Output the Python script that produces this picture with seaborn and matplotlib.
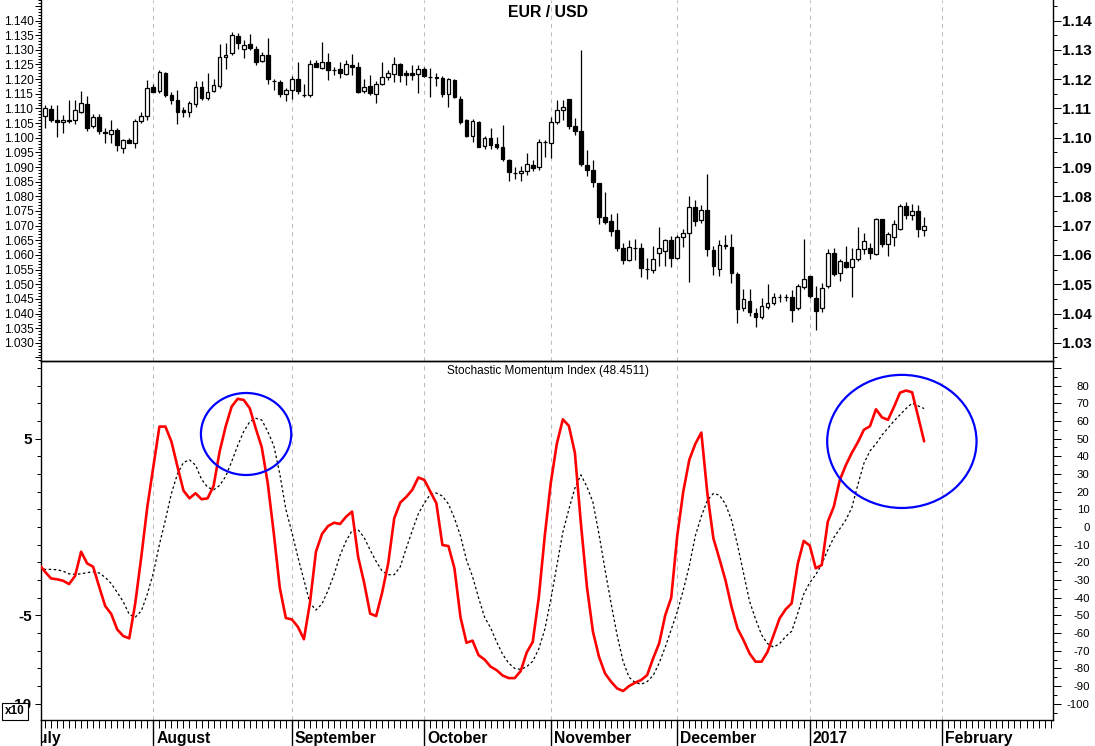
import numpy as np
import pandas as pd
import seaborn as sns
import matplotlib.pyplot as plt
from matplotlib.patches import Ellipse
from matplotlib.ticker import MultipleLocator, FixedLocator, FuncFormatter

# forex trading days (the feed has no bar for Thanksgiving)
calendar = pd.bdate_range("2016-07-01", "2017-02-28")
calendar = calendar[calendar != pd.Timestamp("2016-11-24")]
first_candle = pd.Timestamp("2016-07-06")
last_candle = pd.Timestamp("2017-01-27")
smi_start = pd.Timestamp("2016-07-05")

month_labels = ["July", "August", "September", "October", "November",
                "December", "2017", "February"]

opens = [1.1074, 1.1099, 1.1062, 1.1052, 1.1058, 1.1059, 1.1088, 1.1115, 1.1040, 1.1070,
         1.1019, 1.1011, 1.1028, 1.0966, 1.0992, 1.0981, 1.1056, 1.1073, 1.1174, 1.1158,
         1.1222, 1.1146, 1.1130, 1.1093, 1.1087, 1.1115, 1.1174, 1.1136, 1.1160, 1.1176,
         1.1276, 1.1288, 1.1348, 1.1303, 1.1320, 1.1303, 1.1263, 1.1281, 1.1194, 1.1190,
         1.1148, 1.1162, 1.1200, 1.1147, 1.1146, 1.1255, 1.1238, 1.1260, 1.1232, 1.1233,
         1.1219, 1.1247, 1.1243, 1.1158, 1.1178, 1.1149, 1.1185, 1.1206, 1.1219, 1.1251,
         1.1221, 1.1220, 1.1219, 1.1233, 1.1208, 1.1205, 1.1205, 1.1148, 1.1196, 1.1133,
         1.1059, 1.1005, 1.1055, 1.0972, 1.0998, 1.0980, 1.0969, 1.0925, 1.0879, 1.0879,
         1.0887, 1.0907, 1.0899, 1.0987, 1.0981, 1.1054, 1.1096, 1.1133, 1.1039, 1.1022,
         1.0907, 1.0891, 1.0845, 1.0730, 1.0716, 1.0685, 1.0622, 1.0581, 1.0624, 1.0624,
         1.0553, 1.0550, 1.0605, 1.0612, 1.0650, 1.0588, 1.0662, 1.0675, 1.0763, 1.0718,
         1.0754, 1.0618, 1.0552, 1.0634, 1.0628, 1.0536, 1.0419, 1.0444, 1.0402, 1.0389,
         1.0423, 1.0437, 1.0456, 1.0456, 1.0457, 1.0419, 1.0491, 1.0529, 1.0453, 1.0419,
         1.0494, 1.0606, 1.0540, 1.0575, 1.0558, 1.0586, 1.0619, 1.0622, 1.0602, 1.0722,
         1.0636, 1.0660, 1.0690, 1.0767, 1.0735, 1.0751, 1.0684]
highs = [1.1113, 1.1110, 1.1111, 1.1077, 1.1128, 1.1128, 1.1159, 1.1142, 1.1082, 1.1081,
         1.1032, 1.1061, 1.1033, 1.0996, 1.1000, 1.1064, 1.1087, 1.1198, 1.1183, 1.1231,
         1.1225, 1.1155, 1.1164, 1.1104, 1.1124, 1.1195, 1.1195, 1.1222, 1.1200, 1.1319,
         1.1322, 1.1362, 1.1359, 1.1332, 1.1354, 1.1314, 1.1292, 1.1341, 1.1199, 1.1197,
         1.1171, 1.1211, 1.1259, 1.1183, 1.1264, 1.1264, 1.1325, 1.1288, 1.1243, 1.1258,
         1.1264, 1.1285, 1.1257, 1.1200, 1.1215, 1.1194, 1.1258, 1.1232, 1.1276, 1.1254,
         1.1232, 1.1249, 1.1249, 1.1241, 1.1239, 1.1221, 1.1209, 1.1204, 1.1202, 1.1141,
         1.1065, 1.1065, 1.1058, 1.1006, 1.1033, 1.1003, 1.1042, 1.0927, 1.0901, 1.0904,
         1.0947, 1.0924, 1.0994, 1.0992, 1.1071, 1.1128, 1.1130, 1.1133, 1.1069, 1.1300,
         1.0958, 1.0924, 1.0846, 1.0815, 1.0741, 1.0742, 1.0640, 1.0651, 1.0654, 1.0640,
         1.0591, 1.0629, 1.0695, 1.0654, 1.0666, 1.0669, 1.0688, 1.0802, 1.0788, 1.0771,
         1.0876, 1.0629, 1.0652, 1.0669, 1.0672, 1.0541, 1.0484, 1.0484, 1.0419, 1.0453,
         1.0502, 1.0471, 1.0467, 1.0465, 1.0481, 1.0501, 1.0654, 1.0529, 1.0493, 1.0504,
         1.0619, 1.0625, 1.0585, 1.0629, 1.0625, 1.0694, 1.0675, 1.0639, 1.0726, 1.0722,
         1.0679, 1.0718, 1.0775, 1.0781, 1.0775, 1.0769, 1.0728]
lows = [1.1033, 1.1053, 1.1003, 1.1017, 1.1050, 1.1046, 1.1085, 1.1023, 1.1033, 1.1013,
        1.0981, 1.0981, 1.0955, 1.0949, 1.0981, 1.0964, 1.1050, 1.1059, 1.1155, 1.1153,
        1.1138, 1.1116, 1.1046, 1.1070, 1.1070, 1.1104, 1.1129, 1.1128, 1.1156, 1.1168,
        1.1235, 1.1283, 1.1304, 1.1273, 1.1299, 1.1249, 1.1257, 1.1182, 1.1163, 1.1138,
        1.1126, 1.1133, 1.1149, 1.1138, 1.1138, 1.1241, 1.1236, 1.1198, 1.1215, 1.1205,
        1.1213, 1.1213, 1.1151, 1.1151, 1.1146, 1.1120, 1.1180, 1.1198, 1.1190, 1.1190,
        1.1181, 1.1198, 1.1151, 1.1207, 1.1139, 1.1178, 1.1139, 1.1105, 1.1137, 1.1048,
        1.1003, 1.0987, 1.0968, 1.0962, 1.0962, 1.0962, 1.0921, 1.0854, 1.0859, 1.0854,
        1.0873, 1.0885, 1.0890, 1.0935, 1.0930, 1.1048, 1.1059, 1.1031, 1.1008, 1.0904,
        1.0868, 1.0831, 1.0705, 1.0705, 1.0663, 1.0615, 1.0568, 1.0579, 1.0581, 1.0525,
        1.0517, 1.0539, 1.0563, 1.0563, 1.0558, 1.0585, 1.0627, 1.0507, 1.0699, 1.0709,
        1.0597, 1.0532, 1.0527, 1.0620, 1.0503, 1.0368, 1.0408, 1.0393, 1.0354, 1.0382,
        1.0415, 1.0428, 1.0438, 1.0443, 1.0372, 1.0411, 1.0484, 1.0453, 1.0343, 1.0406,
        1.0487, 1.0527, 1.0512, 1.0555, 1.0456, 1.0580, 1.0602, 1.0586, 1.0600, 1.0628,
        1.0597, 1.0630, 1.0685, 1.0724, 1.0718, 1.0660, 1.0663]
closes = [1.1102, 1.1059, 1.1053, 1.1060, 1.1060, 1.1093, 1.1118, 1.1034, 1.1071, 1.1022,
          1.1017, 1.1025, 1.0976, 1.0992, 1.0983, 1.1056, 1.1075, 1.1170, 1.1157, 1.1225,
          1.1147, 1.1129, 1.1087, 1.1087, 1.1119, 1.1172, 1.1134, 1.1156, 1.1180, 1.1274,
          1.1282, 1.1351, 1.1323, 1.1317, 1.1305, 1.1260, 1.1283, 1.1199, 1.1193, 1.1149,
          1.1162, 1.1202, 1.1160, 1.1146, 1.1252, 1.1241, 1.1260, 1.1232, 1.1231, 1.1222,
          1.1253, 1.1241, 1.1156, 1.1174, 1.1151, 1.1185, 1.1208, 1.1221, 1.1251, 1.1213,
          1.1213, 1.1215, 1.1235, 1.1210, 1.1207, 1.1205, 1.1148, 1.1201, 1.1139, 1.1054,
          1.1005, 1.1057, 1.0970, 1.0998, 1.0976, 1.0970, 1.0927, 1.0882, 1.0878, 1.0888,
          1.0910, 1.0896, 1.0984, 1.0986, 1.1054, 1.1096, 1.1105, 1.1039, 1.1023, 1.0910,
          1.0890, 1.0849, 1.0730, 1.0714, 1.0682, 1.0625, 1.0583, 1.0626, 1.0623, 1.0556,
          1.0552, 1.0586, 1.0624, 1.0650, 1.0588, 1.0661, 1.0675, 1.0763, 1.0717, 1.0754,
          1.0620, 1.0561, 1.0635, 1.0631, 1.0537, 1.0416, 1.0450, 1.0405, 1.0389, 1.0427,
          1.0437, 1.0457, 1.0455, 1.0455, 1.0412, 1.0493, 1.0518, 1.0459, 1.0408, 1.0487,
          1.0608, 1.0535, 1.0578, 1.0558, 1.0587, 1.0619, 1.0648, 1.0605, 1.0722, 1.0636,
          1.0670, 1.0706, 1.0767, 1.0735, 1.0751, 1.0688, 1.0698]

# Stochastic Momentum Index and its signal line, from 2016-07-05
smi = [-21.0, -25.3, -29.1, -29.6, -30.4, -32.3, -27.7, -14.0, -20.6, -22.5,
       -33.8, -44.7, -49.2, -58.0, -61.7, -63.0, -43.0, -16.8, 11.5, 34.2,
       56.8, 56.8, 48.3, 34.2, 20.6, 16.2, 19.1, 15.7, 16.2, 23.2,
       42.6, 56.8, 68.1, 72.5, 71.9, 67.2, 55.8, 45.1, 24.7, -3.6,
       -34.5, -51.5, -52.3, -56.5, -63.5, -43.0, -14.0, -4.0, 0.5, 2.4,
       1.7, 5.8, 8.7, -16.8, -31.5, -49.0, -50.4, -37.0, -20.6, 4.9,
       13.8, 17.0, 21.0, 28.0, 26.6, 20.0, 13.4, -10.2, -10.8, -23.4,
       -51.0, -65.5, -64.3, -72.5, -75.0, -79.0, -81.0, -84.0, -85.5, -85.5,
       -81.5, -71.0, -65.0, -40.0, -5.0, 25.0, 47.0, 60.9, 57.2, 42.0,
       2.0, -33.8, -59.2, -73.4, -82.8, -87.5, -91.3, -92.8, -90.0, -88.1,
       -86.6, -83.8, -74.3, -65.8, -50.0, -40.0, -5.0, 20.0, 38.0, 47.0,
       53.4, 19.0, -6.4, -18.0, -30.0, -45.0, -57.4, -64.0, -71.5, -76.2,
       -76.2, -70.6, -61.1, -51.7, -46.6, -43.2, -21.0, -7.9, -10.5, -23.4,
       -21.5, 3.0, 11.5, 26.6, 35.0, 42.0, 48.0, 55.0, 57.0, 66.6,
       62.0, 60.6, 68.0, 76.0, 77.2, 76.2, 62.5, 48.4511]
smi_signal = [-23.0, -24.0, -24.0, -24.2, -25.0, -26.5, -26.8, -26.5, -25.8, -25.4,
              -26.0, -28.5, -32.0, -37.0, -42.3, -49.5, -51.0, -47.5, -38.0, -26.0,
              -10.0, 4.0, 19.0, 30.0, 36.5, 38.0, 35.0, 27.0, 22.5, 21.0,
              23.5, 28.5, 37.0, 46.0, 54.0, 59.5, 61.5, 60.5, 54.0, 46.0,
              30.0, 10.0, -3.0, -17.0, -30.0, -43.0, -47.0, -43.5, -36.0, -27.0,
              -16.0, -8.0, -2.0, -1.5, -6.0, -13.0, -19.5, -25.0, -27.0, -27.0,
              -22.5, -12.0, -2.0, 7.5, 13.5, 18.5, 19.2, 17.5, 13.0, 5.0,
              -5.0, -18.7, -28.0, -40.0, -51.0, -57.0, -65.0, -72.0, -77.0, -80.0,
              -80.6, -79.0, -76.0, -69.0, -58.0, -41.0, -22.0, -3.0, 10.0, 22.0,
              29.5, 22.8, 14.0, -4.0, -24.0, -43.0, -61.0, -76.0, -85.0, -88.0,
              -89.0, -87.5, -84.0, -77.0, -68.0, -58.0, -48.0, -35.7, -22.0, -5.0,
              6.0, 15.0, 19.0, 18.0, 13.0, 4.0, -10.0, -26.0, -42.0, -52.0,
              -61.0, -66.0, -68.0, -66.0, -62.0, -59.0, -49.0, -38.0, -31.5, -27.0,
              -21.0, -13.0, -6.0, -1.0, 4.0, 11.0, 24.0, 36.0, 43.0, 47.0,
              52.0, 56.0, 60.0, 63.5, 67.0, 70.0, 68.5, 67.0]

# hand-drawn circles on the indicator: (centre date index, centre value, width, height)
circles = [(33.4, 52.6, 15.0, 46.4), (142.3, 48.4, 24.8, 75.3)]

# positions on the bar axis
pos_of = pd.Series(np.arange(len(calendar)) - calendar.get_loc(first_candle), index=calendar)
candle_x = pos_of[first_candle:last_candle].values
smi_x = pos_of[smi_start:last_candle].values
month_pos = pos_of.groupby(calendar.to_period("M")).first().values

sns.set_style("ticks")
plt.rcParams["font.family"] = ["Liberation Sans", "DejaVu Sans"]
plt.rcParams["axes.linewidth"] = 1.0
plt.rcParams["axes.edgecolor"] = "black"
plt.rcParams["xtick.color"] = "black"
plt.rcParams["ytick.color"] = "black"
plt.rcParams["text.color"] = "black"

W, H = 1095, 746
fig = plt.figure(figsize=(W / 100, H / 100), dpi=100)


def box(x0, y0, x1, y1):
    return [x0 / W, 1 - y1 / H, (x1 - x0) / W, (y1 - y0) / H]


ax_top = fig.add_axes(box(41, 0, 1053, 361))
ax_bot = fig.add_axes(box(41, 361, 1053, 720))
ax_strip = fig.add_axes(box(41, 720, 1053, 746))

X_LEFT, X_RIGHT = -0.66, 167.4
for ax in (ax_top, ax_bot, ax_strip):
    ax.set_xlim(X_LEFT, X_RIGHT)
ax_top.set_facecolor("white")
ax_bot.set_facecolor("none")
ax_strip.set_facecolor("none")

for ax in (ax_top, ax_bot):
    for p in month_pos:
        ax.axvline(p, color="#bdbdbd", lw=0.75, ls=(0, (4, 4)), zorder=0)

# ---- price panel
o = np.array(opens)
c = np.array(closes)
ax_top.vlines(candle_x, lows, highs, color="black", lw=0.9, zorder=2)
body_bottom = np.minimum(o, c)
body_height = np.maximum(np.abs(c - o), 0.00008)
body_color = ["white" if cl > op else "black" for op, cl in zip(o, c)]
ax_top.bar(candle_x, body_height, bottom=body_bottom, width=0.62, color=body_color,
           edgecolor="black", linewidth=0.9, zorder=3)

PRICE_LIM = (1.0238, 1.1470)
ax_top.set_ylim(*PRICE_LIM)
ax_top.yaxis.set_major_locator(MultipleLocator(0.005))
ax_top.yaxis.set_minor_locator(MultipleLocator(0.001))
ax_top.yaxis.set_major_formatter(FuncFormatter(
    lambda v, _: f"{v:.3f}" if 1.0295 < v < 1.1405 else ""))
ax_top.tick_params(axis="y", which="major", direction="out", length=4.3, width=0.72,
                   labelsize=8.6, pad=1.2, colors="black")
ax_top.tick_params(axis="y", which="minor", direction="out", length=2.2, width=0.72)
ax_top.tick_params(axis="x", which="both", bottom=False, labelbottom=False)
ax_top.spines["top"].set_visible(False)
ax_top.spines["right"].set_visible(False)

ax_top_r = ax_top.twinx()
ax_top_r.set_ylim(*PRICE_LIM)
ax_top_r.yaxis.set_major_locator(MultipleLocator(0.01))
ax_top_r.yaxis.set_minor_locator(MultipleLocator(0.005))
ax_top_r.yaxis.set_major_formatter(FuncFormatter(lambda v, _: f"{v:.2f}"))
ax_top_r.tick_params(axis="y", which="major", direction="out", length=5.8, width=0.72,
                     labelsize=11, pad=0.6)
ax_top_r.tick_params(axis="y", which="minor", direction="out", length=2.9, width=0.72)
for s in ("top", "left", "bottom"):
    ax_top_r.spines[s].set_visible(False)
plt.setp(ax_top_r.get_yticklabels(), fontweight="bold")

# ---- indicator panel
smi_df = pd.DataFrame({"x": smi_x, "smi": smi, "signal": smi_signal})
sns.lineplot(data=smi_df, x="x", y="signal", ax=ax_bot, color="black", lw=0.9,
             linestyle=(0, (2, 2)), zorder=3)
sns.lineplot(data=smi_df, x="x", y="smi", ax=ax_bot, color="#ff0000", lw=1.9, zorder=4)
for cx, cy, w, h in circles:
    ax_bot.add_patch(Ellipse((cx, cy), w, h, fill=False, ec="#0000ff", lw=1.6, zorder=5))
ax_bot.set_xlabel("")
ax_bot.set_ylabel("")

SMI_LIM = (-109.2, 93.9)
ax_bot.set_ylim(*SMI_LIM)
ax_bot.yaxis.set_major_locator(FixedLocator([50, -50, -100]))
ax_bot.yaxis.set_minor_locator(MultipleLocator(10))
ax_bot.yaxis.set_major_formatter(FuncFormatter(lambda v, _: f"{v / 10:.0f}"))
ax_bot.tick_params(axis="y", which="major", direction="out", length=4.3, width=0.72,
                   labelsize=11, pad=2.4)
ax_bot.tick_params(axis="y", which="minor", direction="out", length=2.9, width=0.72)
plt.setp(ax_bot.get_yticklabels(), fontweight="bold")
ax_bot.set_xticks(np.arange(0, 168))
ax_bot.tick_params(axis="x", which="major", direction="out", length=5.8, width=0.72,
                   labelbottom=False)
ax_bot.spines["right"].set_visible(False)

ax_bot_r = ax_bot.twinx()
ax_bot_r.set_ylim(*SMI_LIM)
ax_bot_r.yaxis.set_major_locator(MultipleLocator(10))
ax_bot_r.yaxis.set_minor_locator(MultipleLocator(5))
ax_bot_r.yaxis.set_major_formatter(FuncFormatter(
    lambda v, _: f"{v:.0f}" if -100 <= v <= 80 else ""))
ax_bot_r.tick_params(axis="y", which="major", direction="out", length=5.8, width=0.72,
                     labelsize=8.2, pad=20.5)
ax_bot_r.tick_params(axis="y", which="minor", direction="out", length=2.9, width=0.72)
for s in ("top", "left", "bottom"):
    ax_bot_r.spines[s].set_visible(False)
plt.setp(ax_bot_r.get_yticklabels(), ha="right")

# ---- date strip
ax_strip.set_ylim(0, 1)
ax_strip.set_xticks([])
ax_strip.set_yticks([])
for s in ("top", "right", "bottom"):
    ax_strip.spines[s].set_visible(False)
ax_strip.vlines(month_pos, 0, 1, color="black", lw=1.0)
for p, label in zip(month_pos, month_labels):
    ax_strip.text(p + 0.5, 0.12, label, fontsize=11.3, fontweight="bold",
                  ha="left", va="baseline", clip_on=True)

fig.text(548 / W, 1 - 12.5 / H, "EUR / USD", fontsize=11.4, fontweight="bold",
         ha="center", va="center")
fig.text(548 / W, 1 - 371 / H, "Stochastic Momentum Index (48.4511)", fontsize=8.5,
         ha="center", va="center")
fig.text(15 / W, 1 - 711.5 / H, "x10", fontsize=8.5, fontweight="bold", ha="center",
         va="center", bbox=dict(boxstyle="square,pad=0.25", fc="white", ec="black", lw=0.8))

fig.savefig("out.png", dpi=100)
